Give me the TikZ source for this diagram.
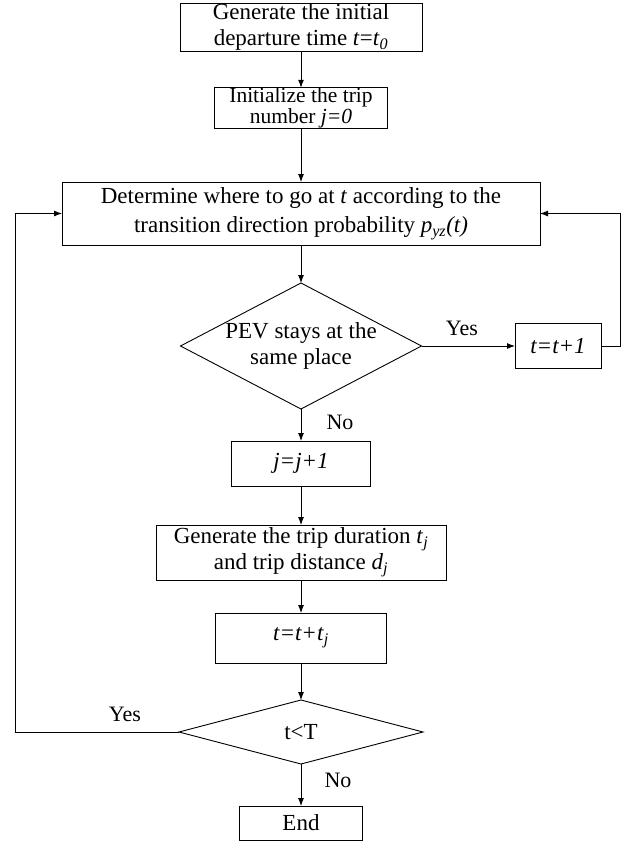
\documentclass[tikz,border=0pt]{standalone}
\usepackage{fontspec}
\setmainfont{Liberation Serif}
\usetikzlibrary{shapes.geometric,arrows.meta}
\begin{document}
\begin{tikzpicture}[x=1pt,y=-1pt,
  box/.style={draw, line width=0.9pt, inner sep=0pt, outer sep=0pt, align=center, font=\fontsize{23}{26}\selectfont},
  dec/.style={draw, diamond, line width=0.9pt, inner sep=0pt, outer sep=0pt},
  dtext/.style={align=center, inner sep=0pt, font=\fontsize{23}{26}\selectfont},
  lbl/.style={font=\fontsize{22}{26}\selectfont, inner sep=0pt},
  arr/.style={-{Latex[length=8pt,width=6pt]}, line width=0.9pt}]
\useasboundingbox (0,0) rectangle (633,841);
\node[box, minimum width=242pt, minimum height=48pt] (b1) at (301,27)
  {Generate the initial\\departure time \textit{t}=\textit{t}\textsubscript{\textit{0}}};
\node[box, minimum width=173pt, minimum height=40pt, font=\fontsize{21.5}{21}\selectfont] (b2) at (301,108)
  {Initialize the trip\\number \textit{j=0}};
\node[box, minimum width=478pt, minimum height=63pt, font=\fontsize{23}{29}\selectfont] (b3) at (301,213.5)
  {Determine where to go at \textit{t} according to the\\transition direction probability \textit{p}\textsubscript{\textit{yz}}\textit{(t)}};
\node[dec, minimum width=241pt, minimum height=126pt] (d1) at (301,346) {};
\node[dtext] (d1t) at (301,346) {PEV stays at the\\same place};
\node[box, minimum width=86pt, minimum height=45pt] (b4) at (558,346) {\textit{t=t+1}};
\node[box, minimum width=139pt, minimum height=45pt] (b5) at (301,463.5) {\textit{j=j+1}};
\node[box, minimum width=290pt, minimum height=55pt] (b6) at (301,552.5)
  {Generate the trip duration \textit{t}\textsubscript{\textit{j}}\\and trip distance \textit{d}\textsubscript{\textit{j}}};
\node[box, minimum width=171pt, minimum height=50pt] (b7) at (301,638) {\textit{t=t+t}\textsubscript{\textit{j}}};
\node[dec, minimum width=244pt, minimum height=64pt] (d2) at (301,732) {};
\node[dtext] (d2t) at (301,732) {t<T};
\node[box, minimum width=123pt, minimum height=34pt] (b8) at (301,823) {End};
\node[lbl] (yes1) at (462,328) {Yes};
\node[lbl] (no1) at (340,422) {No};
\node[lbl] (yes2) at (125,714) {Yes};
\node[lbl] (no2) at (338,780) {No};
\coordinate (cR) at (620,0);
\coordinate (cL) at (15.5,0);
\draw[arr] (b1) -- (b2);
\draw[arr] (b2) -- (b3);
\draw[arr] (b3) -- (d1);
\draw[arr] (d1) -- (b5);
\draw[arr] (b5) -- (b6);
\draw[arr] (b6) -- (b7);
\draw[arr] (b7) -- (d2);
\draw[arr] (d2) -- (b8);
\draw[arr] (d1.east) -- (b4.west);
\draw[arr] (b4.east) -- (b4.east -| cR) |- (b3.east);
\draw[arr] (d2.west) -- (d2.west -| cL) |- (b3.west);
\end{tikzpicture}
\end{document}
